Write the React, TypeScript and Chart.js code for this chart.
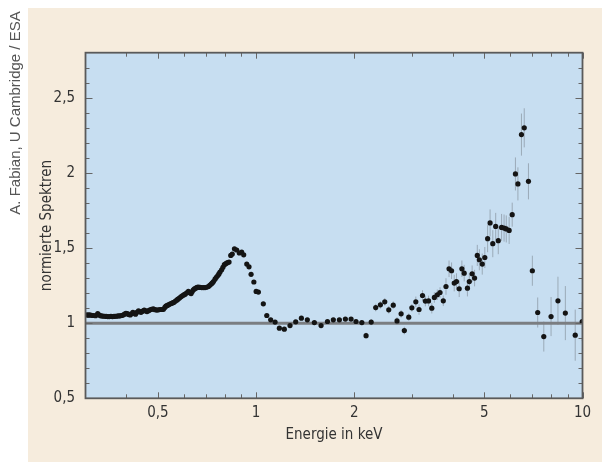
import React, { useEffect, useRef } from "react";
import { Chart, registerables } from "chart.js";

Chart.register(...registerables);

// ---------- data ----------
// soft band 0.3 – 1 keV (dense, error bars smaller than the dots)
const softEnergy = [
  0.303, 0.306, 0.309, 0.313, 0.317, 0.322, 0.327, 0.331, 0.335, 0.339,
  0.343, 0.347, 0.351, 0.355, 0.359, 0.363, 0.367, 0.371, 0.375, 0.379,
  0.383, 0.387, 0.391, 0.395, 0.399, 0.403, 0.407, 0.411, 0.415, 0.419,
  0.423, 0.427, 0.431, 0.436, 0.44, 0.444, 0.449, 0.454, 0.459, 0.463,
  0.468, 0.473, 0.478, 0.484, 0.49, 0.496, 0.502, 0.508, 0.514, 0.52,
  0.525, 0.529, 0.534, 0.539, 0.544, 0.549, 0.554, 0.559, 0.565, 0.571,
  0.576, 0.582, 0.588, 0.594, 0.6, 0.606, 0.613, 0.62, 0.626, 0.632,
  0.637, 0.642, 0.647, 0.653, 0.659, 0.665, 0.673, 0.681, 0.689, 0.697,
  0.705, 0.714, 0.721, 0.728, 0.734, 0.74, 0.748, 0.755, 0.763, 0.769,
  0.775, 0.784, 0.791, 0.799, 0.806, 0.812, 0.819, 0.826, 0.836, 0.845,
  0.858, 0.872, 0.888, 0.903, 0.916, 0.936, 0.951, 0.965, 0.984, 1.0,
  1.016,
];
const softRatio = [
  1.055, 1.053, 1.055, 1.052, 1.051, 1.05, 1.063, 1.053, 1.048, 1.047,
  1.046, 1.045, 1.044, 1.044, 1.045, 1.044, 1.045, 1.046, 1.047, 1.048,
  1.049, 1.051, 1.054, 1.06, 1.066, 1.063, 1.058, 1.055, 1.062, 1.072,
  1.066, 1.06, 1.072, 1.082, 1.076, 1.072, 1.08, 1.087, 1.082, 1.077,
  1.083, 1.089, 1.092, 1.095, 1.09, 1.087, 1.089, 1.091, 1.091, 1.092,
  1.105, 1.113, 1.118, 1.122, 1.127, 1.131, 1.135, 1.138, 1.146, 1.153,
  1.16, 1.167, 1.175, 1.182, 1.188, 1.193, 1.202, 1.211, 1.203, 1.197,
  1.21, 1.222, 1.228, 1.233, 1.238, 1.24, 1.238, 1.237, 1.237, 1.237,
  1.239, 1.244, 1.252, 1.26, 1.268, 1.277, 1.293, 1.305, 1.317, 1.328,
  1.34, 1.355, 1.372, 1.389, 1.395, 1.4, 1.403, 1.407, 1.451, 1.46,
  1.495, 1.487, 1.467, 1.473, 1.455, 1.393, 1.375, 1.325, 1.274, 1.211,
  1.207,
];

// hard band 1 – 10 keV, with error bars
const hardEnergy = [
  1.052, 1.078, 1.108, 1.143, 1.178, 1.22, 1.27, 1.322, 1.376, 1.435,
  1.508, 1.581, 1.654, 1.724, 1.799, 1.877, 1.954, 2.023, 2.108, 2.172,
  2.252, 2.325, 2.403, 2.478, 2.549, 2.631, 2.702, 2.781, 2.845, 2.935,
  3.0, 3.085, 3.156, 3.234, 3.3, 3.375, 3.453, 3.516, 3.59, 3.66,
  3.745, 3.817, 3.9, 3.97, 4.045, 4.11, 4.19, 4.27, 4.34, 4.44,
  4.5, 4.59, 4.67, 4.76, 4.83, 4.93, 5.02, 5.12, 5.21, 5.31,
  5.42, 5.52, 5.65, 5.75, 5.84, 5.96, 6.09, 6.23, 6.34, 6.5,
  6.63, 6.83, 7.02, 7.29, 7.61, 8.01, 8.41, 8.86, 9.5, 9.98,
];
const hardRatio = [
  1.129, 1.051, 1.022, 1.007, 0.967, 0.96, 0.984, 1.009, 1.033, 1.022,
  1.004, 0.984, 1.011, 1.022, 1.022, 1.027, 1.027, 1.011, 1.004, 0.917,
  1.007, 1.104, 1.122, 1.142, 1.089, 1.12, 1.015, 1.062, 0.951, 1.04,
  1.102, 1.142, 1.091, 1.184, 1.147, 1.148, 1.1, 1.171, 1.189, 1.204,
  1.149, 1.244, 1.362, 1.349, 1.267, 1.277, 1.229, 1.362, 1.333, 1.233,
  1.277, 1.329, 1.3, 1.451, 1.422, 1.393, 1.437, 1.562, 1.667, 1.529,
  1.644, 1.549, 1.637, 1.633, 1.627, 1.617, 1.722, 1.993, 1.927, 2.255,
  2.3, 1.944, 1.349, 1.071, 0.911, 1.044, 1.149, 1.067, 0.92, 1.011,
];
const hardErr = [
  0.008, 0.008, 0.008, 0.008, 0.008, 0.008, 0.008, 0.008, 0.008, 0.008,
  0.008, 0.008, 0.008, 0.008, 0.008, 0.008, 0.008, 0.008, 0.008, 0.02,
  0.02, 0.025, 0.025, 0.025, 0.025, 0.025, 0.025, 0.025, 0.025, 0.025,
  0.025, 0.035, 0.035, 0.035, 0.035, 0.035, 0.035, 0.035, 0.035, 0.035,
  0.035, 0.055, 0.055, 0.055, 0.055, 0.055, 0.055, 0.055, 0.055, 0.055,
  0.055, 0.055, 0.055, 0.07, 0.07, 0.07, 0.07, 0.09, 0.09, 0.09,
  0.09, 0.09, 0.09, 0.09, 0.09, 0.09, 0.08, 0.11, 0.11, 0.14,
  0.13, 0.12, 0.1, 0.1, 0.1, 0.13, 0.16, 0.18, 0.17, 0.13,
];

// reference level
const refEnergy = [0.3, 10];
const refRatio = [1, 1];

// axes
const xMin = 0.3;
const xMax = 10;
const yMin = 0.5;
const yMax = 2.8;
const xTickValues = [0.5, 1, 2, 5, 10];
const xMinorTicks = [0.4, 0.6, 0.7, 0.8, 0.9, 3, 4, 6, 7, 8, 9];
const yTickValues = [0.5, 1, 1.5, 2, 2.5];
const yMinorTicks = [
  0.6, 0.7, 0.8, 0.9, 1.1, 1.2, 1.3, 1.4, 1.6, 1.7, 1.8, 1.9, 2.1, 2.2,
  2.3, 2.4, 2.6, 2.7,
];

const xTitle = "Energie in keV";
const yTitle = "normierte Spektren";
const creditText = "A. Fabian, U Cambridge / ESA";

// ---------- styles ----------
const FONT =
  "'Liberation Sans Narrow', 'DejaVu Sans Condensed', 'Roboto Condensed', sans-serif";
const FONT_SIZE = 15;
const TEXT_COLOR = "#333333";
const PAGE_BG = "#f6ecdd";
const PLOT_BG = "#c7def1";
const FRAME = "#5a5a5a";

const fmt = (v: number) => String(v).replace(".", ",");

const backgroundPlugin = {
  id: "pageBackground",
  beforeDraw(chart: any) {
    const { ctx, chartArea: a, width, height } = chart;
    ctx.save();
    ctx.fillStyle = "#ffffff";
    ctx.fillRect(0, 0, width, height);
    ctx.fillStyle = PAGE_BG;
    ctx.fillRect(28, 8, width - 28, height - 8);
    ctx.fillStyle = PLOT_BG;
    ctx.fillRect(a.left, a.top, a.right - a.left, a.bottom - a.top);
    // credit line
    ctx.translate(15.5, 113);
    ctx.rotate(-Math.PI / 2);
    ctx.font = "15px 'Liberation Sans', Arial, sans-serif";
    ctx.fillStyle = "#555555";
    ctx.textAlign = "center";
    ctx.textBaseline = "middle";
    ctx.fillText(creditText, 0, 0);
    ctx.restore();
  },
};

const errorBarPlugin = {
  id: "errorBars",
  beforeDatasetsDraw(chart: any) {
    const { ctx, chartArea: a } = chart;
    const xs = chart.scales.x;
    const ys = chart.scales.y;
    ctx.save();
    ctx.beginPath();
    ctx.rect(a.left, a.top, a.right - a.left, a.bottom - a.top);
    ctx.clip();
    ctx.strokeStyle = "rgba(125,135,145,0.6)";
    ctx.lineWidth = 1;
    hardEnergy.forEach((e, i) => {
      const px = xs.getPixelForValue(e);
      ctx.beginPath();
      ctx.moveTo(px, ys.getPixelForValue(hardRatio[i] - hardErr[i]));
      ctx.lineTo(px, ys.getPixelForValue(hardRatio[i] + hardErr[i]));
      ctx.stroke();
    });
    ctx.restore();
  },
};

const framePlugin = {
  id: "frameTicks",
  afterDraw(chart: any) {
    const { ctx, chartArea: a } = chart;
    const xs = chart.scales.x;
    const ys = chart.scales.y;
    ctx.save();
    ctx.strokeStyle = "#666666";
    ctx.lineWidth = 1;
    const hTick = (v: number, len: number) => {
      const p = Math.round(xs.getPixelForValue(v)) + 0.5;
      ctx.beginPath();
      ctx.moveTo(p, a.bottom);
      ctx.lineTo(p, a.bottom - len);
      ctx.moveTo(p, a.top);
      ctx.lineTo(p, a.top + len);
      ctx.stroke();
    };
    const vTick = (v: number, len: number) => {
      const p = Math.round(ys.getPixelForValue(v)) + 0.5;
      ctx.beginPath();
      ctx.moveTo(a.left, p);
      ctx.lineTo(a.left + len, p);
      ctx.moveTo(a.right, p);
      ctx.lineTo(a.right - len, p);
      ctx.stroke();
    };
    xTickValues.forEach((v) => hTick(v, 6));
    xMinorTicks.forEach((v) => hTick(v, 4));
    yTickValues.forEach((v) => vTick(v, 7));
    yMinorTicks.forEach((v) => vTick(v, 4));
    ctx.strokeStyle = FRAME;
    ctx.lineWidth = 1.8;
    ctx.strokeRect(a.left, a.top, a.right - a.left, a.bottom - a.top);
    ctx.restore();
  },
};

export default function App() {
  const canvasRef = useRef<HTMLCanvasElement | null>(null);

  useEffect(() => {
    if (!canvasRef.current) return;
    const pointStyle = {
      pointRadius: 2.6,
      pointBackgroundColor: "#141414",
      pointBorderWidth: 0,
      pointHoverRadius: 2.6,
      showLine: false,
    };
    const chart = new Chart(canvasRef.current, {
      type: "scatter",
      data: {
        datasets: [
          {
            label: "soft",
            data: softEnergy.map((x, i) => ({ x, y: softRatio[i] })),
            ...pointStyle,
            order: 1,
          },
          {
            label: "hard",
            data: hardEnergy.map((x, i) => ({ x, y: hardRatio[i] })),
            ...pointStyle,
            order: 1,
          },
          {
            label: "ref",
            data: refEnergy.map((x, i) => ({ x, y: refRatio[i] })),
            showLine: true,
            borderColor: "#7b7e82",
            borderWidth: 3,
            pointRadius: 0,
            order: 3,
          } as any,
        ],
      },
      options: {
        responsive: false,
        animation: false,
        events: [],
        layout: { padding: { top: 52.7, right: 19.5, left: 0, bottom: 0 } },
        plugins: {
          legend: { display: false },
          tooltip: { enabled: false },
        },
        scales: {
          x: {
            type: "logarithmic",
            position: "bottom",
            min: xMin,
            max: xMax,
            grid: { display: false, drawTicks: false },
            border: { display: false },
            afterBuildTicks: (s: any) => {
              s.ticks = xTickValues.map((v) => ({ value: v }));
            },
            afterFit: (s: any) => {
              s.height = 63.7;
            },
            ticks: {
              autoSkip: false,
              maxRotation: 0,
              padding: 6,
              color: TEXT_COLOR,
              font: { family: FONT, size: FONT_SIZE },
              callback: (v: any) => fmt(Number(v)),
            },
            title: {
              display: true,
              text: xTitle,
              color: TEXT_COLOR,
              font: { family: FONT, size: FONT_SIZE },
              padding: { top: 0, bottom: 18 },
            },
          },
          y: {
            type: "linear",
            position: "left",
            min: yMin,
            max: yMax,
            grid: { display: false, drawTicks: false },
            border: { display: false },
            afterBuildTicks: (s: any) => {
              s.ticks = yTickValues.map((v) => ({ value: v }));
            },
            afterFit: (s: any) => {
              s.width = 85.5;
            },
            ticks: {
              padding: 10.5,
              color: TEXT_COLOR,
              font: { family: FONT, size: FONT_SIZE },
              callback: (v: any) => fmt(Number(v)),
            },
            title: {
              display: true,
              text: yTitle,
              color: TEXT_COLOR,
              font: { family: FONT, size: FONT_SIZE },
              padding: { top: 38, bottom: 0 },
            },
          },
        },
      },
      plugins: [backgroundPlugin, errorBarPlugin, framePlugin],
    } as any);
    return () => chart.destroy();
  }, []);

  return (
    <div style={{ position: "fixed", left: 0, top: 0, width: 602, height: 462 }}>
      <canvas
        ref={canvasRef}
        width={602}
        height={462}
        style={{ display: "block", width: 602, height: 462 }}
      />
    </div>
  );
}
